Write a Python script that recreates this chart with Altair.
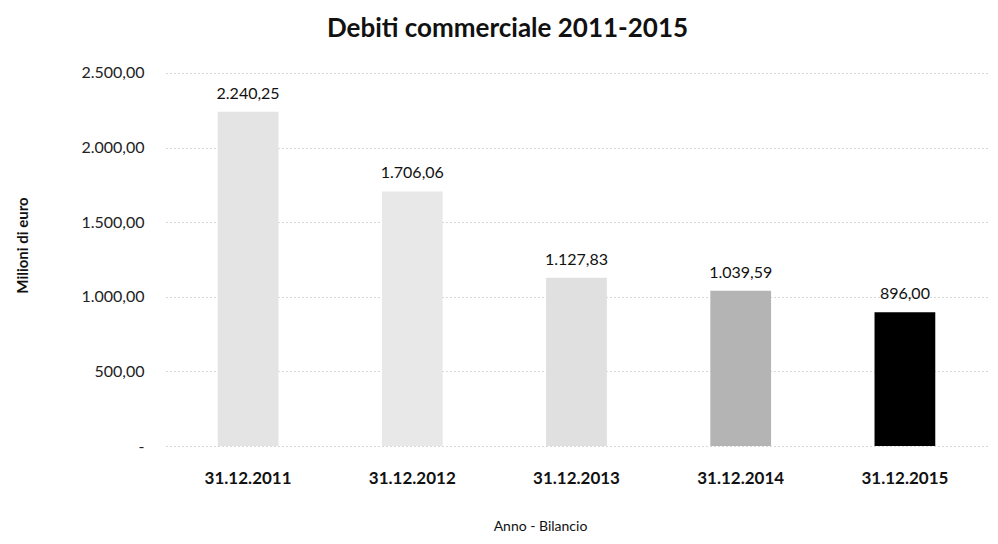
import altair as alt
import pandas as pd

categories = ["31.12.2011", "31.12.2012", "31.12.2013", "31.12.2014", "31.12.2015"]
values = [2240.25, 1706.06, 1127.83, 1039.59, 896.00]
value_labels = ["2.240,25", "1.706,06", "1.127,83", "1.039,59", "896,00"]
bar_colors = ["#e4e4e4", "#e8e8e8", "#e0e0e0", "#b4b4b4", "#000000"]

df = pd.DataFrame({"anno": categories, "valore": values, "etichetta": value_labels})

x = alt.X("anno:N", sort=categories,
          scale=alt.Scale(paddingInner=0.63, paddingOuter=0.315),
          axis=alt.Axis(title="Anno - Bilancio", labelAngle=0, labelFont="Lato",
                        labelFontWeight="bold", labelFontSize=17, labelColor="#111",
                        labelPadding=24, ticks=False, domain=False,
                        titleFont="Lato", titleFontWeight="normal", titleFontSize=14,
                        titleColor="#111", titleX=374, titleY=80, titleBaseline="middle"))
y = alt.Y("valore:Q", scale=alt.Scale(domain=[0, 2500]),
          axis=alt.Axis(title="Milioni di euro", values=[0, 500, 1000, 1500, 2000, 2500],
                        labelExpr="datum.value == 0 ? '-' : replace(replace(replace(format(datum.value, ',.2f'), ',', '#'), '.', ','), '#', '.')",
                        labelFont="Lato", labelFontSize=16, labelColor="#222",
                        labelPadding=22, ticks=False, domain=False,
                        gridColor="#b0b0b0", gridDash=[1, 3], gridWidth=1,
                        titleFont="Lato", titleFontWeight="bold", titleFontSize=15,
                        titleColor="#111", titleX=-144, titleY=187, titleAngle=270,
                        titleAlign="center", titleBaseline="middle"))

bars = alt.Chart(df).mark_bar().encode(
    x=x, y=y,
    color=alt.Color("anno:N", sort=categories,
                    scale=alt.Scale(domain=categories, range=bar_colors), legend=None),
)
text = alt.Chart(df).mark_text(baseline="bottom", dy=-10, font="Lato", fontSize=16,
                               color="#111").encode(
    x=alt.X("anno:N", sort=categories), y="valore:Q", text="etichetta:N")

chart = (bars + text).properties(
    width=821, height=388,
    title=alt.TitleParams("Debiti commerciale 2011-2015", font="Lato", fontSize=26,
                          fontWeight="bold", color="#111", anchor="middle", dx=-69,
                          offset=16),
    autosize=alt.AutoSizeParams(type="none"),
    padding={"left": 158, "top": 50, "right": 3, "bottom": 90},
).configure_view(stroke=None)

chart.save("out.html", embed_options={"renderer": "svg", "actions": False})
